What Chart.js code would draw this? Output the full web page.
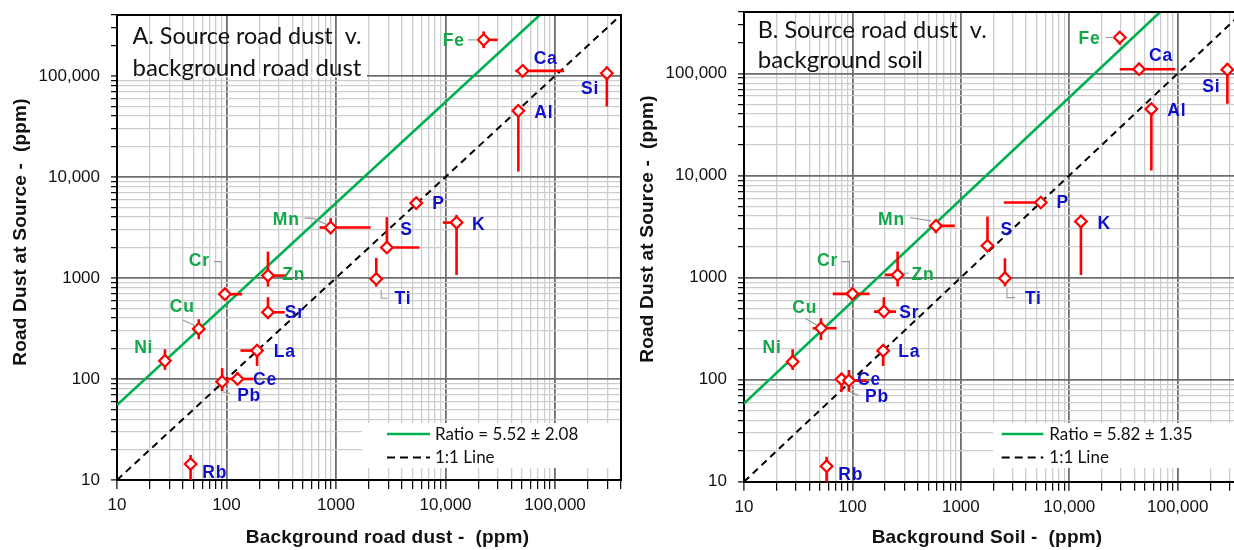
<!DOCTYPE html>
<html><head><meta charset="utf-8">
<script src="https://cdn.jsdelivr.net/npm/chart.js@4.4.0/dist/chart.umd.min.js"></script>
<style>
html,body{margin:0;padding:0;background:#fff;overflow:hidden;width:1234px;height:550px;position:relative}
canvas{position:absolute;top:0}
#cA{left:0}
#cB{left:620px}
</style></head>
<body>
<canvas id="cA" width="640" height="550"></canvas>
<canvas id="cB" width="640" height="550"></canvas>
<script>
// ---------------- DATA ----------------
const elements = ['Fe','Ca','Si','Al','P','K','S','Mn','Ti','Zn','Cr','Sr','Cu','Ni','La','Ce','Pb','Rb'];
const enrichedElements = ['Fe','Mn','Zn','Cr','Cu','Ni'];

// Panel A: source road dust vs background road dust (ppm)
const aBackground = [22300, 50600, 297000, 46200, 5400, 12600, 2910, 893, 2330, 239, 96.6, 239, 55.8, 27.4, 190, 126, 91.2, 47];
const aSource     = [227000, 112000, 106000, 45000, 5500, 3530, 2000, 3150, 977, 1055, 690, 457, 313, 151, 191, 100, 94, 14.4];
const aXLow  = [20400, 43400, null, null, null, 9440, null, 708, null, null, null, null, null, null, 134, 100, null, null];
const aXHigh = [29900, 121000, null, null, null, null, 5780, 2070, null, 352, 139, 340, null, null, null, 175, null, null];
const aYLow  = [188000, null, 49700, 11300, null, 1070, null, 2770, 820, 820, null, null, 247, 123, 134.6, 90.6, 76, 9];
const aYHigh = [275000, null, 124000, null, null, 4210, 3990, 3900, 1580, 1820, null, 644, 390, 197, null, 116, 128, 17.7];
const ratioA = 5.52, ratioAErr = 2.08;

// Panel B: source road dust vs background soil (ppm)
const bBackground = [29200, 44000, 287000, 57100, 5460, 12800, 1760, 589, 2550, 261, 100, 195, 51.3, 28.1, 192, 79.4, 92.9, 57.8];
const bSource     = [225000, 110000, 109000, 44800, 5440, 3540, 2050, 3210, 986, 1062, 692, 464, 319, 150, 192, 101, 97.8, 14.2];
const bXLow  = [26200, 29200, null, null, 2490, 11200, null, 537, null, 199, 65.8, 158, 43, null, null, null, null, null];
const bXHigh = [32400, 95000, null, null, null, 14600, null, 880, null, 294, 144, 252, 71.5, null, null, null, 135, null];
const bYLow  = [191000, null, 50400, 11200, null, 1060, null, 2720, 817, 817, null, null, 245, 124, 136, 76, 76, 9];
const bYHigh = [258000, null, 126000, null, null, 4120, 3960, 3680, 1550, 1800, null, 643, 400, 199, 208, 116, 124, 17.6];
const ratioB = 5.82, ratioBErr = 1.35;

// Axis ticks
const axisMin = 10, axisMax = 400000;
const majorTicks = [10, 100, 1000, 10000, 100000];
const tickLabels = ['10', '100', '1000', '10,000', '100,000'];

// ---------------- LAYOUT (label offsets in px relative to marker) ----------------
const labelLayoutA = {
  Fe:[-19,1.5,'right',[[-16,0],[-6,0]]], Ca:[11,-11.7,'left'], Si:[-7.7,16,'right'], Al:[16,2.3,'left'],
  P:[16,0.7,'left'], K:[15.4,2.3,'left'], S:[13.4,-17.7,'left'],
  Mn:[-31,-7.7,'right',[[-26,-9.4],[-18,-9.4],[-4,-3]]],
  Ti:[18.3,20.3,'left',[[5,11],[5,19.3],[11.6,19.3]]], Zn:[14.4,-0.7,'left'],
  Cr:[-15,-32.6,'right',[[-11,-32.6],[-3.5,-32.6],[-3.5,-6]]], Sr:[16.7,1,'left'],
  Cu:[-4,-21.3,'right',[[-16,-9],[-3,-3]]], Ni:[-11.7,-12.7,'right'], La:[16.7,1.6,'left'],
  Ce:[15.6,1,'left'], Pb:[15,14.3,'left',[[0,10],[8,11.6]]], Rb:[11.6,9.3,'left']
};
const labelLayoutB = {
  Fe:[-19.3,1.6,'right',[[-14,0],[-6,0]]], Ca:[10,-13.3,'left'], Si:[-7,17.7,'right'], Al:[16,1.7,'left'],
  P:[15.7,0.6,'left'], K:[16.7,2.3,'left'], S:[13,-16,'left'],
  Mn:[-31,-6,'right',[[-26,-8.3],[-5,-5]]],
  Ti:[20,21,'left',[[2,10],[2,19.4],[10,19.4]]], Zn:[14,0,'left',[[6,-1.7],[11,-1.7]]],
  Cr:[-14.4,-32.3,'right',[[-11,-32.3],[-3,-32.3],[-3,-6]]], Sr:[15.3,1.6,'left'],
  Cu:[-3.7,-20,'right',[[-16,-10],[-4,-3]]], Ni:[-11,-13.4,'right'], La:[15,1.6,'left'],
  Ce:[15.6,1.4,'left'], Pb:[16,16.6,'left',[[1,11],[10,15]]], Rb:[11.6,9,'left']
};

const RED = '#ff0000', GREEN = '#00b050', LGREEN = '#12a84a', BLUE = '#1010c8';
const TITLE_FAMILY = 'Lato, "Open Sans", sans-serif';

function tickValues() {
  const v = [];
  majorTicks.forEach(m => { for (let k = 1; k <= 9; k++) if (m * k <= axisMax) v.push(m * k); });
  return v;
}
function isMajor(v) { return majorTicks.some(m => Math.abs(m - v) < 1e-6 * m); }
function labelFor(v) { const i = majorTicks.findIndex(m => Math.abs(m - v) < 1e-6 * m); return i >= 0 ? tickLabels[i] : ''; }

// font size so that the reference line "background road dust" is ~228px wide
function fitTitleSize(ctx) {
  let best = 22, bestErr = 1e9;
  for (let s = 18; s <= 30; s += 0.25) {
    ctx.font = s + 'px ' + TITLE_FAMILY;
    const e = Math.abs(ctx.measureText('background road dust').width - 228);
    if (e < bestErr) { bestErr = e; best = s; }
  }
  return best;
}

function makeChart(canvasId, p) {
  const pts = p.xs.map((x, i) => ({x, y: p.ys[i]}));
  const panelPlugin = {
    id: 'panel' + canvasId,
    beforeDatasetsDraw(chart) {
      const ctx = chart.ctx, ys = chart.scales.y, ca = chart.chartArea;
      if (p.hideTopGrid) {
        const y = ys.getPixelForValue(100000);
        ctx.save(); ctx.fillStyle = '#fff';
        ctx.fillRect(ca.left + 1, y - 1.5, p.hideTopGrid, 3);
        ctx.restore();
      }
    },
    beforeDatasetDraw(chart, args) {
      if (args.index !== 0) return;
      const ctx = chart.ctx, xs = chart.scales.x, ys = chart.scales.y, ca = chart.chartArea;
      ctx.save();
      ctx.beginPath(); ctx.rect(ca.left, ca.top, ca.right - ca.left, ca.bottom - ca.top); ctx.clip();
      ctx.strokeStyle = RED; ctx.lineWidth = 2.6; ctx.lineCap = 'butt';
      p.xs.forEach((xv, i) => {
        const px = xs.getPixelForValue(xv), py = ys.getPixelForValue(p.ys[i]);
        if (p.xLo[i] != null || p.xHi[i] != null) {
          const a = xs.getPixelForValue(p.xLo[i] != null ? p.xLo[i] : xv);
          const b = xs.getPixelForValue(p.xHi[i] != null ? p.xHi[i] : xv);
          ctx.beginPath(); ctx.moveTo(a, py); ctx.lineTo(b, py); ctx.stroke();
        }
        if (p.yLo[i] != null || p.yHi[i] != null) {
          const a = ys.getPixelForValue(p.yLo[i] != null ? p.yLo[i] : p.ys[i]);
          const b = ys.getPixelForValue(p.yHi[i] != null ? p.yHi[i] : p.ys[i]);
          ctx.beginPath(); ctx.moveTo(px, a); ctx.lineTo(px, b); ctx.stroke();
        }
      });
      ctx.restore();
    },
    afterDatasetsDraw(chart) {
      const ctx = chart.ctx, xs = chart.scales.x, ys = chart.scales.y;
      ctx.save();
      ctx.font = 'bold 17.5px "Liberation Sans", Arial, sans-serif';
      try { ctx.letterSpacing = '0.8px'; } catch (e) {}
      ctx.textBaseline = 'middle';
      elements.forEach((el, i) => {
        const px = xs.getPixelForValue(p.xs[i]), py = ys.getPixelForValue(p.ys[i]);
        const L = p.layout[el];
        if (L[3]) {
          ctx.strokeStyle = '#9a9a9a'; ctx.lineWidth = 1.1;
          ctx.beginPath();
          L[3].forEach((q, k) => { if (k === 0) ctx.moveTo(px + q[0], py + q[1]); else ctx.lineTo(px + q[0], py + q[1]); });
          ctx.stroke();
        }
        ctx.fillStyle = enrichedElements.includes(el) ? LGREEN : BLUE;
        ctx.textAlign = L[2];
        ctx.fillText(el, px + L[0], py + L[1]);
      });
      ctx.restore();
    },
    afterDraw(chart) {
      const ctx = chart.ctx, ca = chart.chartArea;
      ctx.save();
      // legend
      const lg = p.legend;
      ctx.fillStyle = '#fff';
      ctx.fillRect(lg.x, lg.y, lg.w, lg.h);
      ctx.strokeStyle = GREEN; ctx.lineWidth = 2.5;
      ctx.beginPath(); ctx.moveTo(lg.sx0, lg.y1); ctx.lineTo(lg.sx1, lg.y1); ctx.stroke();
      ctx.strokeStyle = '#000'; ctx.lineWidth = 2; ctx.setLineDash([8, 5]);
      ctx.beginPath(); ctx.moveTo(lg.sx0, lg.y2); ctx.lineTo(lg.sx1, lg.y2); ctx.stroke();
      ctx.setLineDash([]);
      ctx.fillStyle = '#111'; ctx.font = '17px ' + TITLE_FAMILY;
      ctx.textAlign = 'left'; ctx.textBaseline = 'middle';
      ctx.fillText('Ratio = ' + p.ratio.toFixed(2) + ' \u00b1 ' + p.ratioErr.toFixed(2), lg.tx, lg.y1 + 1, 146);
      ctx.fillText('1:1 Line', lg.tx, lg.y2);
      // border top/right
      ctx.strokeStyle = '#000'; ctx.lineWidth = 2;
      ctx.beginPath();
      ctx.moveTo(ca.left - 1, ca.top); ctx.lineTo(ca.right, ca.top); ctx.lineTo(ca.right, ca.bottom + 1);
      ctx.stroke();
      // panel title
      const ts = fitTitleSize(ctx);
      ctx.fillStyle = '#111'; ctx.font = ts + 'px ' + TITLE_FAMILY;
      ctx.textAlign = 'left'; ctx.textBaseline = 'middle';
      ctx.fillText(p.title[0], p.titleX, p.titleY[0], 229);
      ctx.fillText(p.title[1], p.titleX, p.titleY[1], 229);
      // axis titles
      ctx.fillStyle = '#111'; ctx.font = 'bold 19px "Liberation Sans", Arial, sans-serif';
      try { ctx.letterSpacing = '0.2px'; } catch (e) {}
      ctx.textAlign = 'center';
      ctx.fillText(p.xTitle, p.xTitlePos[0], p.xTitlePos[1]);
      ctx.translate(p.yTitlePos[0], p.yTitlePos[1]); ctx.rotate(-Math.PI / 2);
      ctx.fillText(p.yTitle, 0, 0);
      ctx.restore();
    }
  };

  const tickFont = {family: '"Liberation Sans", Arial, sans-serif', size: 17};
  const gridColor = (ctx) => isMajor(ctx.tick.value) ? '#6e6e6e' : '#cdcdcd';
  const gridWidth = (ctx) => isMajor(ctx.tick.value) ? 1.8 : 1.3;

  return new Chart(document.getElementById(canvasId), {
    data: {
      datasets: [
        { type: 'scatter', data: pts, pointStyle: 'rectRot', pointRadius: 5.8, pointHoverRadius: 5.8,
          borderColor: RED, backgroundColor: '#fff', borderWidth: 2.2 },
        { type: 'line', data: [{x: axisMin, y: axisMin * p.ratio}, {x: axisMax / p.ratio, y: axisMax}],
          borderColor: GREEN, borderWidth: 2.6, pointRadius: 0, fill: false },
        { type: 'line', data: [{x: axisMin, y: axisMin}, {x: axisMax, y: axisMax}],
          borderColor: '#000', borderWidth: 2, borderDash: [7, 5], pointRadius: 0, fill: false }
      ]
    },
    options: {
      responsive: false, animation: false, devicePixelRatio: 1,
      layout: { padding: { left: 0, top: p.padTop, right: p.padRight, bottom: 0 } },
      plugins: { legend: { display: false }, tooltip: { enabled: false } },
      scales: {
        x: {
          type: 'logarithmic', min: axisMin, max: axisMax,
          afterBuildTicks: s => { s.ticks = tickValues().map(v => ({value: v})); },
          afterFit: s => { s.height = p.xAxisH; s.paddingLeft = 0; s.paddingRight = 0; },
          ticks: { autoSkip: false, maxRotation: 0, font: tickFont, color: '#111', padding: 6,
                   callback: v => labelFor(v) },
          grid: { color: gridColor, lineWidth: gridWidth, tickColor: '#000', tickWidth: 1.2, tickLength: 9 },
          border: { display: true, color: '#000', width: 2 }
        },
        y: {
          type: 'logarithmic', min: axisMin, max: axisMax,
          afterBuildTicks: s => { s.ticks = tickValues().map(v => ({value: v})); },
          afterFit: s => { s.width = p.yAxisW; s.paddingTop = 0; s.paddingBottom = 0; },
          ticks: { autoSkip: false, font: tickFont, color: '#111', padding: 11,
                   callback: v => labelFor(v) },
          grid: { color: ctx => ctx.tick.value > 100000 ? 'rgba(0,0,0,0)' : gridColor(ctx),
                  lineWidth: gridWidth, tickColor: '#000', tickWidth: 1.2, tickLength: 6 },
          border: { display: true, color: '#000', width: 2 }
        }
      }
    },
    plugins: [panelPlugin]
  });
}

makeChart('cA', {
  xs: aBackground, ys: aSource, xLo: aXLow, xHi: aXHigh, yLo: aYLow, yHi: aYHigh,
  ratio: ratioA, ratioErr: ratioAErr, layout: labelLayoutA,
  padTop: 15, padRight: 19, xAxisH: 70, yAxisW: 117, hideTopGrid: 249,
  legend: {x: 362, y: 423, w: 258, h: 45, sx0: 387, sx1: 430, tx: 435, y1: 434, y2: 457.5},
  title: ['A. Source road dust  v.', 'background road dust'], titleX: 132.5, titleY: [36.7, 68.3],
  xTitle: 'Background road dust -  (ppm)', xTitlePos: [387.5, 538],
  yTitle: 'Road Dust at Source -  (ppm)', yTitlePos: [21, 232]
});

makeChart('cB', {
  xs: bBackground, ys: bSource, xLo: bXLow, xHi: bXHigh, yLo: bYLow, yHi: bYHigh,
  ratio: ratioB, ratioErr: ratioBErr, layout: labelLayoutB,
  padTop: 12, padRight: 17, xAxisH: 68.3, yAxisW: 124, hideTopGrid: 0,
  legend: {x: 373, y: 423, w: 250, h: 45, sx0: 381.7, sx1: 423.3, tx: 429.3, y1: 434, y2: 457.5},
  title: ['B. Source road dust  v.', 'background soil'], titleX: 137.7, titleY: [30, 60],
  xTitle: 'Background Soil -  (ppm)', xTitlePos: [367, 538],
  yTitle: 'Road Dust at Source -  (ppm)', yTitlePos: [28, 229]
});
</script>
</body></html>
